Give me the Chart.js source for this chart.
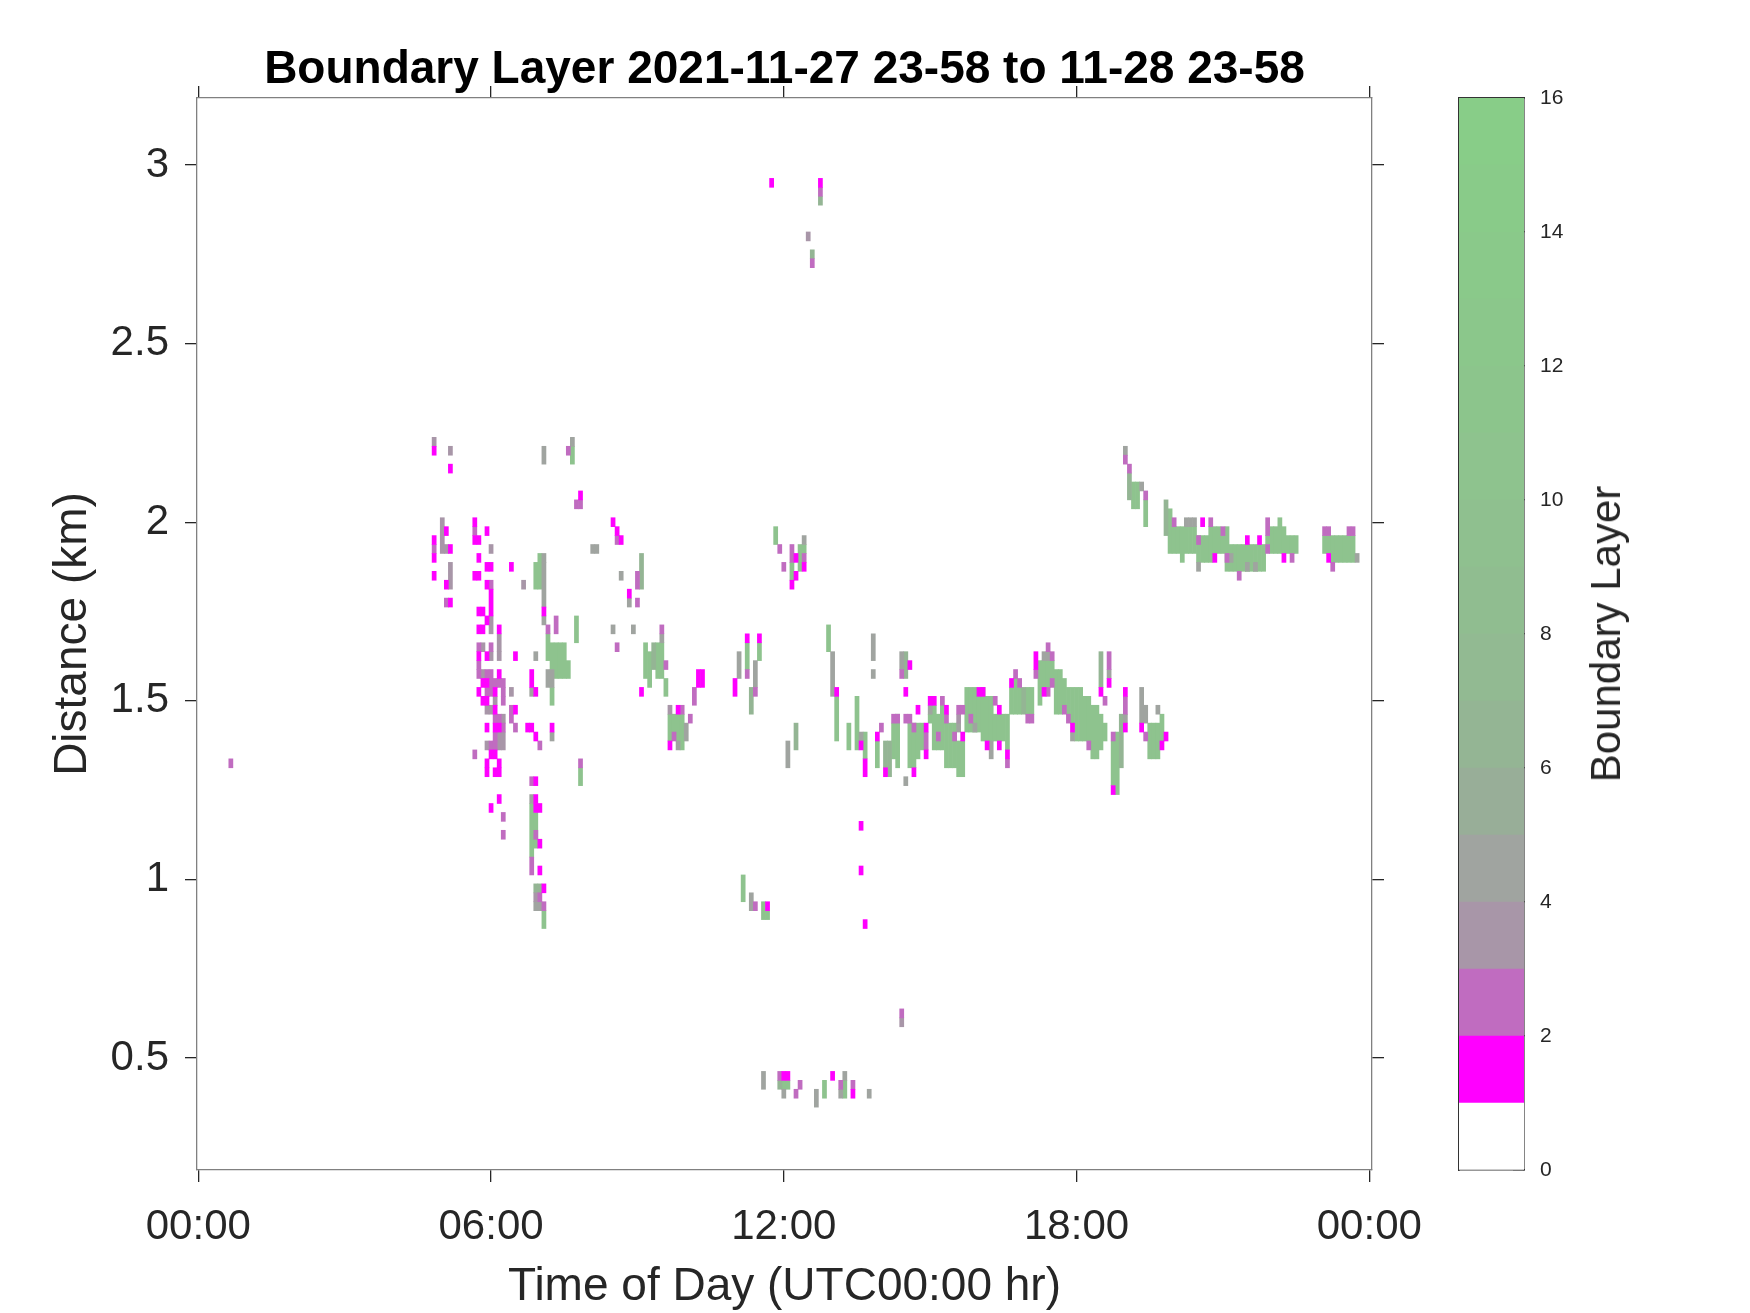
<!DOCTYPE html>
<html>
<head>
<meta charset="utf-8">
<title>Boundary Layer</title>
<script src="https://cdn.jsdelivr.net/npm/chart.js@4.4.1/dist/chart.umd.min.js"></script>
<style>
  html, body { margin: 0; padding: 0; background: #fff; }
  #wrap { position: relative; width: 1750px; height: 1313px; }
  #wrap canvas { position: absolute; left: 0; top: 0; }
  #cbLabel {
    position: absolute; left: 1606px; top: 634px;
    transform: translate(-50%, -50%) rotate(-90deg);
    font: 42px 'Liberation Sans', Arial, sans-serif; line-height: 1;
    color: #262626; white-space: nowrap;
  }
</style>
</head>
<body>
<div id="wrap">
  <canvas id="main" width="1750" height="1313"></canvas>
  <canvas id="cbar" width="1750" height="1313"></canvas>
  <div id="cbLabel">Boundary Layer</div>
</div>
<script>
// texts
const TITLE = 'Boundary Layer 2021-11-27 23-58 to 11-28 23-58';
const X_TITLE = 'Time of Day (UTC00:00 hr)';
const Y_TITLE = 'Distance (km)';

// axes
const xTicks = [0, 6, 12, 18, 24];
const xTickLabels = ['00:00', '06:00', '12:00', '18:00', '00:00'];
const yTicks = [0.5, 1, 1.5, 2, 2.5, 3];
const cbTicks = [0, 2, 4, 6, 8, 10, 12, 14, 16];
const X_MIN = -0.027, X_MAX = 24.055;
const Y_MIN = 0.1865, Y_MAX = 3.1875;

// grid of the lidar: 5 minute columns, 25 m gates
const COL_MIN = 5;
const GATE_KM = 0.025;

// colour of each band of the colour bar, band i = [i, i+1]
const levelColors = ['#ffffff', '#ff00ff', '#c06cc0', '#a896a8', '#a0a4a0', '#98ae98',
  '#94b594', '#92ba92', '#90bd90', '#8fc08f', '#8ec38e', '#8cc58c', '#8bc78b',
  '#8ac98a', '#89cb89', '#88cd88'];

// cells: [column, lowest gate, highest gate]
const level1Runs = [
  [58,88,88],[62,86,86],[94,83,83],[61,79,79],[58,78,78],[62,77,77],[58,76,76],[58,74,74],
  [61,73,73],[62,71,71],[68,80,80],[68,78,78],[69,78,78],[71,79,79],[69,76,76],[71,75,75],
  [72,75,75],[68,74,74],[69,74,74],[71,73,73],[72,70,72],[69,70,70],[70,70,70],[71,69,69],
  [69,68,68],[70,68,68],[74,68,68],[69,65,65],[71,65,65],[74,63,63],[70,62,62],[71,62,62],
  [69,61,61],[73,61,61],[70,60,60],[71,60,60],[73,59,59],[78,59,59],[71,57,57],[73,57,57],
  [74,57,57],[81,57,57],[82,57,57],[87,57,57],[83,56,56],[72,54,54],[73,54,54],[71,53,53],
  [74,53,53],[71,52,52],[73,52,52],[74,52,52],[83,51,51],[74,49,49],[83,49,49],[72,48,48],
  [83,48,48],[84,48,48],[84,44,44],[84,41,41],[85,39,39],[85,70,70],[78,65,65],[82,62,63],
  [83,61,61],[77,75,75],[109,61,61],[123,62,63],[124,62,63],[116,55,55],[118,59,59],
  [135,67,67],[138,67,67],[132,61,62],[102,80,80],[103,79,79],[104,78,78],[106,72,72],
  [146,73,73],[147,76,76],[147,74,74],[149,75,75],[157,61,61],[163,55,55],[164,52,53],
  [167,56,56],[169,52,52],[175,64,64],[174,61,61],[176,52,52],[177,59,59],[179,57,57],
  [179,54,54],[180,60,60],[181,60,60],[184,59,59],[188,56,56],[192,61,61],[193,61,61],
  [194,55,55],[197,59,59],[197,55,55],[199,54,54],[200,62,62],[206,64,65],[208,61,61],
  [215,57,57],[222,61,61],[224,62,62],[225,50,50],[228,61,61],[228,57,57],[232,57,57],
  [238,56,56],[237,55,55],[247,80,80],[250,76,76],[258,78,78],[261,78,78],[267,76,76],
  [278,76,76],[141,118,118],[153,118,118],[163,41,41],[164,35,35],[163,46,46],[140,37,37],
  [144,18,18],[145,18,18],[156,18,18],[161,16,16]
];
const level2Runs = [
  [8,53,53],[91,88,88],[93,82,82],[94,82,82],[58,77,77],[61,71,71],[68,79,79],[72,73,73],
  [69,66,66],[72,66,66],[69,64,64],[69,63,63],[71,63,63],[72,62,63],[73,62,62],[74,62,62],
  [75,62,62],[71,61,61],[72,61,61],[75,61,61],[75,60,60],[77,59,59],[73,58,58],[74,58,58],
  [77,58,58],[75,57,57],[78,57,57],[73,56,56],[72,55,55],[73,55,55],[84,55,55],[68,54,54],
  [94,53,53],[82,51,51],[75,47,47],[75,45,45],[83,45,45],[82,41,42],[84,38,38],[85,37,37],
  [86,68,68],[88,68,69],[103,66,66],[114,68,68],[115,64,64],[122,60,61],[121,58,58],
  [117,56,56],[119,59,59],[135,63,63],[137,61,61],[137,37,37],[143,77,77],[144,75,75],
  [146,76,77],[149,76,76],[103,78,78],[108,73,74],[108,71,71],[168,57,57],[171,58,58],
  [172,58,58],[173,63,63],[174,58,58],[175,58,58],[176,57,57],[179,55,56],[182,56,56],
  [183,60,60],[184,58,58],[186,56,56],[187,59,59],[188,59,59],[190,58,58],[196,60,60],
  [199,53,53],[201,63,63],[202,62,62],[204,58,58],[205,58,58],[206,63,63],[209,66,66],
  [210,65,65],[209,61,61],[210,62,62],[213,59,59],[214,58,58],[219,55,55],[223,60,60],
  [224,64,65],[225,56,56],[228,59,60],[233,56,56],[228,87,87],[229,86,86],[233,83,83],
  [240,80,80],[246,78,78],[249,80,80],[252,79,79],[256,74,74],[263,79,80],[263,77,77],
  [269,76,76],[277,79,79],[278,79,79],[279,75,75],[283,79,79],[284,79,79],[253,76,76],
  [153,117,117],[151,109,109],[143,18,18],[148,17,17],[147,16,16],[158,17,17],[161,17,17],
  [173,25,25]
];
const level3Runs = [
  [58,89,89],[62,88,88],[60,77,80],[61,77,77],[62,73,75],[72,77,77],[72,68,69],[74,66,67],
  [70,66,66],[72,65,65],[74,65,65],[70,63,63],[77,61,61],[73,60,60],[71,59,59],[72,59,59],
  [75,58,58],[74,55,56],[75,55,56],[71,55,55],[80,73,73],[83,38,38],[116,59,59],
  [150,112,112],[173,24,24],[187,58,58]
];
const level4Runs = [
  [92,89,89],[85,87,88],[97,77,77],[98,77,77],[104,74,74],[106,71,71],[102,68,68],[107,68,68],
  [85,76,76],[85,71,75],[85,69,69],[83,65,65],[86,62,63],[87,62,63],[82,61,61],[82,49,49],
  [83,37,37],[84,37,37],[87,56,56],[114,67,67],[120,56,57],[118,55,55],[133,63,65],[137,62,64],
  [149,78,78],[145,53,55],[136,37,38],[139,17,18],[144,16,16],[152,15,16],[159,18,18],
  [165,16,16],[158,16,16],[156,61,65],[166,65,67],[166,63,63],[163,56,56],[174,51,51],
  [195,54,55],[187,57,57],[191,57,57],[208,65,65],[209,65,65],[215,56,56],[224,63,63],
  [228,58,58],[232,58,61],[233,58,59],[236,59,59],[228,88,88],[232,84,84],[243,80,80],
  [244,80,80],[245,80,80],[246,75,75],[258,75,75],[260,75,75],[254,76,76],[285,76,76],
  [180,59,59],[173,64,65]
];
const level6Runs = [
  [109,73,76],[112,64,66],[136,59,61],[147,55,57],[83,39,39],[84,39,39],[143,17,17],
  [170,52,55],[169,53,55],[174,63,65],[203,59,61],[222,62,65],[227,53,58],[229,83,85],
  [238,79,82],[151,110,110],[153,116,116]
];
const level10Runs = [
  [92,87,88],[83,73,75],[84,73,76],[86,65,67],[87,64,66],[88,63,66],[89,63,66],[90,63,66],
  [91,63,64],[87,60,61],[93,67,69],[94,51,52],[82,43,48],[83,44,47],[85,35,36],
  [110,63,66],[111,62,65],[113,63,66],[114,63,66],[115,61,62],[116,56,58],[117,57,58],
  [118,56,58],[119,55,58],[135,64,66],[138,65,66],[142,78,79],[146,74,75],[148,75,77],
  [149,77,77],[134,38,40],[139,36,37],[140,36,36],[144,17,17],[145,17,17],[154,16,17],
  [159,16,17],[155,66,68],[157,56,60],[160,55,57],[162,55,60],[164,54,56],[167,53,55],
  [171,54,57],[172,53,58],[175,53,57],[176,53,57],[177,54,57],[178,55,57],[180,58,58],
  [181,55,59],[182,55,58],[183,55,59],[184,53,57],[185,53,57],[186,53,57],[187,52,55],
  [188,52,55],[189,57,61],[190,57,61],[191,57,61],[192,57,60],[193,56,61],[194,56,60],
  [195,56,60],[196,56,58],[197,56,58],[198,56,58],[199,55,58],[200,59,61],[201,59,62],
  [202,59,61],[204,59,61],[205,59,61],[207,60,64],[208,62,64],[209,62,64],[210,63,64],
  [211,59,63],[212,59,63],[213,60,62],[214,59,61],[215,58,61],[216,56,61],[217,56,61],
  [218,56,60],[219,56,60],[220,54,59],[221,54,59],[222,55,58],[223,56,57],[225,51,55],
  [226,50,56],[234,54,57],[235,54,57],[236,54,57],[237,56,58],[230,82,84],[231,82,84],
  [233,80,82],[239,77,81],[240,77,79],[241,77,79],[242,76,79],[243,77,79],[244,77,79],
  [245,77,79],[246,76,78],[247,76,78],[248,76,78],[249,76,79],[250,77,79],[251,77,79],
  [252,77,78],[253,75,79],[254,75,77],[255,75,77],[256,75,77],[257,75,77],[258,75,77],
  [259,75,77],[260,75,77],[261,75,77],[262,75,77],[263,78,78],[264,77,79],[265,77,79],
  [266,77,80],[267,77,79],[268,77,78],[269,77,78],[270,77,78],[277,77,78],[278,77,78],
  [279,76,78],[280,76,78],[281,76,78],[282,76,78],[283,76,78],[284,76,78]
];

const FONT = "'Liberation Sans', Arial, sans-serif";
const INK = '#262626';
Chart.defaults.font.family = FONT;
Chart.defaults.color = INK;

// one floating bar per run of gates
function toBars(runs) {
  return runs.map(([c, g0, g1]) => ({
    x: c * COL_MIN / 60,
    y: [g0 * GATE_KM - GATE_KM / 2, g1 * GATE_KM + GATE_KM / 2]
  }));
}

// first dataset is drawn on top
const layers = [[1, level1Runs], [2, level2Runs], [3, level3Runs], [4, level4Runs], [6, level6Runs], [10, level10Runs]];
const datasets = layers.map(([lv, runs]) => ({
  label: 'level ' + lv,
  data: toBars(runs),
  backgroundColor: levelColors[lv],
  borderWidth: 0,
  grouped: false,
  barPercentage: 1,
  categoryPercentage: 1
}));

const tickGrid = { offset: false, drawOnChartArea: false, drawTicks: true, tickLength: 12, color: INK, lineWidth: 1.3 };
const boxBorder = { display: true, color: '#808080', width: 1.3 };
const setTicks = (list) => (s) => { s.ticks = list.map(v => ({ value: v })); };

new Chart(document.getElementById('main'), {
  type: 'bar',
  data: { datasets },
  options: {
    responsive: false,
    animation: false,
    layout: { padding: 0 },
    plugins: {
      legend: { display: false },
      tooltip: { enabled: false },
      title: {
        display: true, text: TITLE, fullSize: false, color: '#000',
        font: { size: 46, weight: 'bold' }, padding: { top: 43, bottom: -1.2 }
      }
    },
    scales: {
      x: {
        type: 'linear', position: 'bottom', min: X_MIN, max: X_MAX, offset: false,
        afterBuildTicks: setTicks(xTicks),
        ticks: { autoSkip: false, maxRotation: 0, padding: 20, font: { size: 42 }, color: INK,
          callback: (v, i) => xTickLabels[i] },
        grid: tickGrid, border: boxBorder,
        title: { display: true, text: X_TITLE, font: { size: 46 }, color: INK, padding: { top: 0, bottom: -2 } },
        afterFit: (s) => { s.height = 143; }
      },
      xTop: {
        type: 'linear', position: 'top', min: X_MIN, max: X_MAX, offset: false,
        afterBuildTicks: setTicks(xTicks),
        ticks: { display: false },
        grid: tickGrid, border: boxBorder,
        afterFit: (s) => { s.height = 1; }
      },
      y: {
        type: 'linear', position: 'left', min: Y_MIN, max: Y_MAX,
        afterBuildTicks: setTicks(yTicks),
        ticks: { padding: 16, font: { size: 42 }, color: INK, callback: (v) => String(v) },
        grid: tickGrid, border: boxBorder,
        title: { display: true, text: Y_TITLE, font: { size: 46 }, color: INK, padding: { top: 46, bottom: 0 } },
        afterFit: (s) => { s.width = 197; }
      },
      yRight: {
        type: 'linear', position: 'right', min: Y_MIN, max: Y_MAX,
        afterBuildTicks: setTicks(yTicks),
        ticks: { display: false },
        grid: tickGrid, border: boxBorder,
        afterFit: (s) => { s.width = 378; }
      }
    }
  }
});

// colour bar
const cbBorder = { display: true, color: '#333333', width: 1.6 };
new Chart(document.getElementById('cbar'), {
  type: 'bar',
  data: {
    labels: ['Boundary Layer'],
    datasets: levelColors.map((col, i) => ({
      label: String(i), data: [[i, i + 1]], backgroundColor: col, borderWidth: 0,
      grouped: false, barPercentage: 1, categoryPercentage: 1
    }))
  },
  options: {
    responsive: false,
    animation: false,
    layout: { padding: { left: 1459, top: 98, bottom: 143, right: 0 } },
    plugins: { legend: { display: false }, tooltip: { enabled: false } },
    scales: {
      x: { position: 'bottom', ticks: { display: false }, grid: { display: false }, border: cbBorder,
        afterFit: (s) => { s.height = 0; } },
      xTop: { type: 'category', position: 'top', ticks: { display: false }, grid: { display: false }, border: cbBorder,
        afterFit: (s) => { s.height = 0; } },
      y: {
        position: 'right', min: 0, max: 16,
        afterBuildTicks: setTicks(cbTicks),
        ticks: { padding: 27, font: { size: 21 }, color: INK },
        grid: { drawOnChartArea: false, drawTicks: true, tickLength: -11, color: INK, lineWidth: 1.3 },
        border: cbBorder,
        afterFit: (s) => { s.width = 226; }
      },
      yLeft: { type: 'linear', position: 'left', min: 0, max: 16, ticks: { display: false }, grid: { display: false },
        border: cbBorder, afterFit: (s) => { s.width = 0; } }
    }
  }
});
</script>
</body>
</html>
